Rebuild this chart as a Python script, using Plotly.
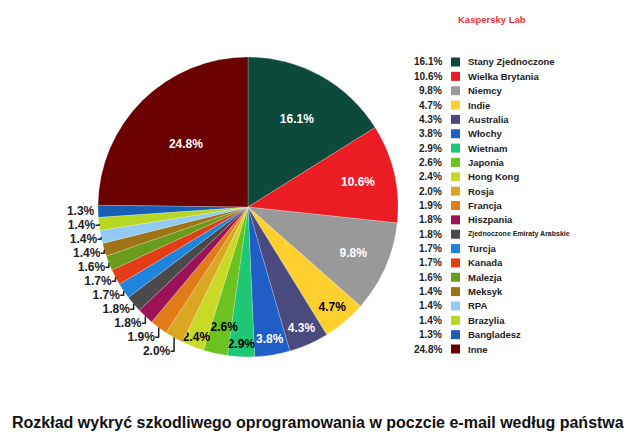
import plotly.graph_objects as go

countries = ["Stany Zjednoczone", "Wielka Brytania", "Niemcy", "Indie", "Australia",
             "Włochy", "Wietnam", "Japonia", "Hong Kong", "Rosja", "Francja",
             "Hiszpania", "Zjednoczone Emiraty Arabskie", "Turcja", "Kanada",
             "Malezja", "Meksyk", "RPA", "Brazylia", "Bangladesz", "Inne"]
shares = [16.1, 10.6, 9.8, 4.7, 4.3, 3.8, 2.9, 2.6, 2.4, 2.0, 1.9,
          1.8, 1.8, 1.7, 1.7, 1.6, 1.4, 1.4, 1.4, 1.3, 24.8]
colors = ["#0d4a3b", "#ec1c24", "#999999", "#fdd02f", "#4a4a7e",
          "#1f5ec6", "#1dc774", "#6cc21f", "#c9d926", "#d9a820", "#e07b17",
          "#9c1256", "#4a4a4a", "#1f84dc", "#e23d14", "#6a9c1b",
          "#a07414", "#92caf3", "#b7d823", "#165fb5", "#6a0000"]
text_pos = ["inside"] * 9 + ["outside"] * 11 + ["inside"]
text_col = ["white", "white", "white", "black", "white", "white", "black",
            "black", "black"] + ["#222222"] * 11 + ["white"]

W, H = 640, 446
FONT = "Liberation Sans, Arial, sans-serif"

# label templates (the narrow "Japonia" label is lifted above its neighbours)
templates = ["<b>%{value:.1f}%</b>"] * len(shares)
templates[7] = "\u00a0\u00a0\u00a0\u00a0<b>%{value:.1f}%</b><br> <br> "

fig = go.Figure()
fig.add_trace(go.Pie(
    labels=countries, values=shares, sort=False, direction="clockwise",
    rotation=0,
    marker=dict(colors=colors, line=dict(color="rgba(255,255,255,0.35)", width=0.6)),
    texttemplate=templates,
    textposition=text_pos,
    insidetextorientation="horizontal",
    textfont=dict(family=FONT, size=12, color=text_col),
    outsidetextfont=dict(family=FONT, size=12, color="#222222"),
    showlegend=False, hoverinfo="label+value",
    domain=dict(x=[98 / W, 398 / W], y=[1 - 357 / H, 1 - 57 / H]),
))

# custom legend (percent, colour box, name)
y0, dy = 62, 14.35
for i, (c, s, col) in enumerate(zip(countries, shares, colors)):
    yp = 1 - (y0 + i * dy) / H
    fig.add_annotation(x=444 / W, y=yp, xref="paper", yref="paper", xanchor="right",
                       yanchor="middle", showarrow=False,
                       text=f"<b>{s:.1f}%</b>", font=dict(family=FONT, size=10, color="#222222"))
    fig.add_shape(type="rect", xref="paper", yref="paper",
                  x0=451 / W, x1=460 / W, y0=yp - 4.5 / H, y1=yp + 4.5 / H,
                  fillcolor=col, line=dict(width=0))
    small = len(c) > 20
    fig.add_annotation(x=466 / W, y=yp, xref="paper", yref="paper", xanchor="left",
                       yanchor="middle", showarrow=False,
                       text=f"<b>{c}</b>",
                       font=dict(family=FONT, size=7 if small else 9.5, color="#222222"))

fig.add_annotation(x=492 / W, y=1 - 19 / H, xref="paper", yref="paper", showarrow=False,
                   xanchor="center", yanchor="middle",
                   text="<b>Kaspersky Lab</b>", font=dict(family=FONT, size=9.5, color="#e8333a"))
fig.add_annotation(x=318 / W, y=1 - 422 / H, xref="paper", yref="paper", showarrow=False,
                   xanchor="center", yanchor="middle",
                   text="<b>Rozkład wykryć szkodliwego oprogramowania w poczcie e-mail według państwa</b>",
                   font=dict(family=FONT, size=16, color="#111111"))

fig.update_layout(width=W, height=H, margin=dict(l=0, r=0, t=0, b=0),
                  paper_bgcolor="white", plot_bgcolor="white",
                  uniformtext=dict(minsize=12, mode="show"))
fig.write_html("out.html")
